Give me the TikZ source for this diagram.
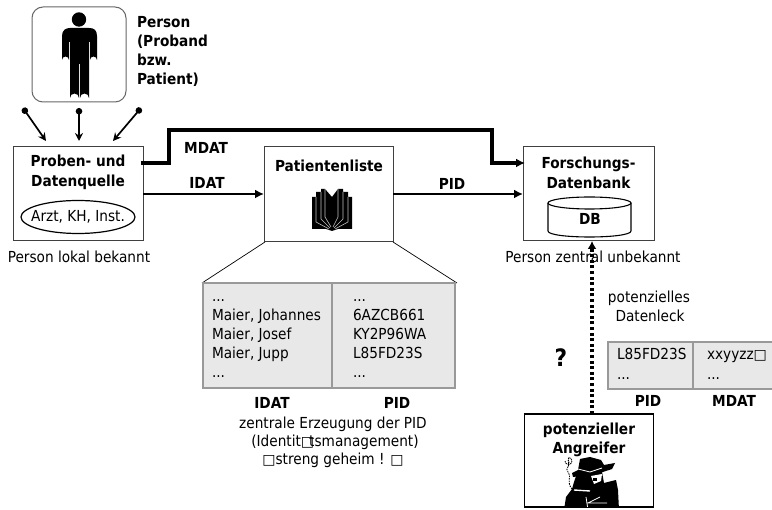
\documentclass[tikz,border=0pt]{standalone}
\usepackage{fontspec}
\setmainfont{DejaVu Sans Condensed}
\newfontfamily\symf{DejaVu Sans}
\usetikzlibrary{arrows.meta,shapes.geometric}
\newcommand{\mbx}{{\symf\fontsize{14}{14}\selectfont □}}
\tikzset{
  x=1pt,y=-1pt,
  every node/.style={inner sep=0pt,outer sep=0pt,font=\fontsize{15.2}{18}\selectfont,align=center,text=black},
  hd/.style={font=\fontsize{15.2}{18}\selectfont\bfseries},
  boxed/.style={draw=black!75,line width=1pt,fill=white,anchor=north west},
  tbl/.style={draw=black!40,line width=2.4pt,fill=black!9,anchor=north west},
  arr/.style={-{Latex[length=9pt,width=9pt]},line width=2.8pt},
  thick arr/.style={-{Latex[length=9pt,width=9pt]},line width=3.6pt},
  dotarr/.style={{Circle[length=6.5pt]}-{Stealth[length=8pt,width=8pt]},line width=1.7pt},
}
\begin{document}
\begin{tikzpicture}
\useasboundingbox (0,0) rectangle (772,510);
% person
\node[boxed,draw=black!60,rounded corners=11pt,minimum width=94pt,minimum height=95pt] (person) at (32,7) {};
\fill (79,19.5) circle (7.2);
\fill (62,36) .. controls (62,30) and (66,28) .. (70,28) -- (89,28) .. controls (94,28) and (97,30) .. (97,36) -- (97,60) arc[start angle=0,end angle=-180,radius=3.5] -- (90,42) -- (89,42) -- (89,98) arc[start angle=0,end angle=-180,radius=4.5] -- (80,64) -- (79,64) -- (79,98) arc[start angle=0,end angle=-180,radius=4.5] -- (70,42) -- (69,42) -- (69,60) arc[start angle=0,end angle=-180,radius=3.5] -- cycle;
\node[anchor=north west,align=left,font=\fontsize{15.2}{19.2}\selectfont\bfseries] (plabel) at (137,16) {Person\\(Proband\\bzw.\\Patient)};
% source
\node[boxed,minimum width=130pt,minimum height=94pt] (src) at (13,147) {};
\node[font=\fontsize{15.2}{20}\selectfont\bfseries] (srct) at (78,172.5) {Proben- und\\Datenquelle};
\draw[line width=1.2pt] (78,217) ellipse[x radius=57,y radius=16.5];
\node (arzt) at (78,217) {Arzt, KH, Inst.};
\node (lok) at (79,257) {Person lokal bekannt};
\coordinate (d1) at (23,108); \coordinate (e1) at (46,141);
\coordinate (d2) at (79,108); \coordinate (e2) at (79,141);
\coordinate (d3) at (141,108); \coordinate (e3) at (113,141);
\draw[dotarr] (d1) -- (e1);
\draw[dotarr] (d2) -- (e2);
\draw[dotarr] (d3) -- (e3);
% Patientenliste
\node[boxed,minimum width=129pt,minimum height=95pt] (pl) at (264,147) {};
\node[hd] (plt) at (329,166) {Patientenliste};
% book
\begin{scope}
\fill (312,197) -- (316,197) -- (316,192) -- (321,192) -- (321,189) -- (325,189) -- (332,197) -- (338,189) -- (343,189) -- (343,192) -- (348,192) -- (348,197) -- (352,197) -- (352,229) -- (338,229) -- (332,231) -- (326,229) -- (312,229) -- cycle;
\draw[white!75!black,line width=.6pt] (316,197) -- (316,222) -- (329,229);
\draw[white!75!black,line width=.6pt] (321,192) -- (321,219) -- (330,228);
\draw[white!75!black,line width=.6pt] (325,189) -- (325,217) -- (331,227);
\draw[white!75!black,line width=.6pt] (348,197) -- (348,222) -- (335,229);
\draw[white!75!black,line width=.6pt] (343,192) -- (343,219) -- (334,228);
\draw[white!75!black,line width=.6pt] (338,189) -- (338,217) -- (333,227);
\end{scope}
% DB box
\node[boxed,minimum width=131pt,minimum height=94pt] (fdb) at (523,147) {};
\node[font=\fontsize{15.2}{20}\selectfont\bfseries] (fdbt) at (588.5,172.5) {Forschungs-\\Datenbank};
\draw[line width=1.1pt,fill=white] (548,203) -- (548,231) .. controls (548,239) and (631,239) .. (631,231) -- (631,203);
\draw[line width=1.1pt,fill=white] (589.5,203) ellipse[x radius=41.5,y radius=6];
\node[hd] (db) at (590,219) {DB};
\node (zen) at (593,257) {Person zentral unbekannt};
% connectors
\draw[arr] (src.east |- 0,194) -- (pl.west |- 0,194);
\draw[arr] (pl.east |- 0,194) -- (fdb.west |- 0,194);
\draw[thick arr] (141,163) -- (169,163) -- (169,130) -- (492,130) -- (492,163) -- (525,163);
\node[hd] (mdat) at (206,148) {MDAT};
\node[hd] (idat) at (207,183) {IDAT};
\node[hd] (pid) at (452,184) {PID};
% table
\coordinate (t1) at (202,283); \coordinate (t2) at (457,283);
\draw[line width=.7pt] (265,242) -- (t1);
\draw[line width=.7pt] (393,242) -- (t2);
\node[tbl,minimum width=252pt,minimum height=105pt] (tab) at (203,283) {};
\draw[draw=black!40,line width=2.4pt] (332,283) -- (332,388);
\node[anchor=north west,align=left,font=\fontsize{15.2}{19}\selectfont] (tl) at (212,288) {\strut...\\Maier, Johannes\\Maier, Josef\\Maier, Jupp\\...};
\node[anchor=north west,align=left,font=\fontsize{15.2}{19}\selectfont] (tr) at (353,288) {\strut...\\6AZCB661\\KY2P96WA\\L85FD23S\\...};
\node[hd] (h1) at (272,403) {IDAT};
\node[hd] (h2) at (397,403) {PID};
\node (c1) at (333,424) {zentrale Erzeugung der PID};
\node (c2) at (335,442) {(Identit\mbx\kern-5pt tsmanagement)};
\node (c3) at (333,460) {\mbx streng geheim ! \mbx};
% leak table
\node (pot) at (649,298) {potenzielles};
\node (lk) at (650,316) {Datenleck};
\node[tbl,minimum width=170pt,minimum height=47pt] (leak) at (608,342) {};
\draw[draw=black!40,line width=2.4pt] (693,342) -- (693,389);
\node[anchor=north west,align=left,font=\fontsize{15.2}{20}\selectfont] (l1) at (617,346) {\strut L85FD23S\\...};
\node[anchor=north west,align=left,font=\fontsize{15.2}{20}\selectfont] (l2) at (707,346) {\strut xxyyzz\mbx\\...};
\node[hd] (h3) at (648,401) {PID};
\node[hd] (h4) at (734,401) {MDAT};
\node[font=\fontsize{24}{26}\selectfont\bfseries] (q) at (561,358) {?};
% attacker
\node[boxed,draw=black,line width=1.6pt,minimum width=129pt,minimum height=93pt] (ang) at (524.5,414) {};
\node[font=\fontsize{15.2}{18.5}\selectfont\bfseries] (angt) at (589,440) {potenzieller\\Angreifer};
\draw[line width=3.6pt,dash pattern=on 3pt off 2.6pt,-{Latex[length=8pt,width=9pt]}] (ang.north -| 592,0) -- (fdb.south -| 592,0);
\begin{scope}
\clip (525,415) rectangle (653,507);
\fill (578,470) -- (580,459) -- (590,457) -- (601,460) -- (604,465) -- (615,463) -- (612,469) -- (600,473) -- (590,475) -- (573,477) -- (572,473) -- cycle;
\fill (576,476) -- (602,472) -- (604,483) -- (616,480) -- (618,490) -- (619,510) -- (564,510) -- (566,497) -- (572,489) -- (574,482) -- cycle;
\draw[white,line width=.8pt] (578,469) -- (590,472) -- (602,468);
\fill[white] (591,476) -- (602,474) -- (601,481) -- (594,484) -- cycle;
\fill (593,478) rectangle (597,481);
\draw[white,line width=1.4pt] (574,490) -- (590,491);
\draw[black,line width=.5pt] (574,488.5) -- (590,489.5);
\draw[white,line width=.8pt] (586,497) -- (588,510) (600,497) -- (588,503) -- (607,503);
\draw[black,line width=.8pt,dash pattern=on 1.5pt off 1pt] (572,489) .. controls (566,482) and (572,478) .. (568,472) .. controls (564,468) and (572,466) .. (568,460);
\draw[black,line width=.8pt,dash pattern=on 1.5pt off .8pt] (565,461) arc[start angle=180,end angle=-90,radius=3.5] -- (568.5,467);
\end{scope}
\end{tikzpicture}
\end{document}
